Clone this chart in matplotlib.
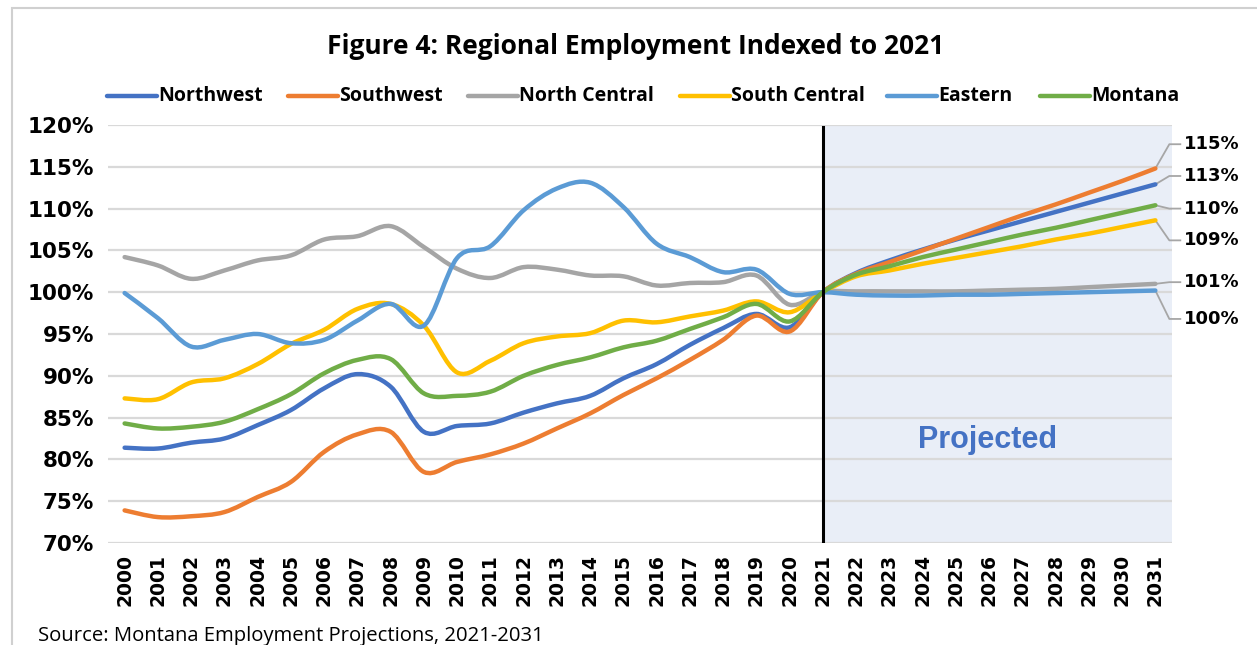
import matplotlib
matplotlib.use("Agg")
import matplotlib.pyplot as plt
from matplotlib.path import Path
from matplotlib.patches import PathPatch, Rectangle
from matplotlib.lines import Line2D
from matplotlib import font_manager
from matplotlib.ticker import FuncFormatter

# ---------------- data ----------------
years = list(range(2000, 2032))
series_names = ["Northwest", "Southwest", "North Central", "South Central", "Eastern", "Montana"]

northwest = [81.4, 81.3, 82.0, 82.5, 84.1, 85.9, 88.5, 90.2, 88.7, 83.3, 84.0, 84.3,
             85.6, 86.7, 87.6, 89.7, 91.4, 93.7, 95.7, 97.4, 95.8, 100.0,
             102.3, 103.8, 105.1, 106.3, 107.4, 108.5, 109.6, 110.7, 111.8, 112.9]
southwest = [73.9, 73.1, 73.2, 73.7, 75.5, 77.3, 80.9, 83.0, 83.3, 78.5, 79.7, 80.6,
             81.9, 83.7, 85.5, 87.7, 89.7, 91.9, 94.3, 97.2, 95.3, 100.0,
             102.2, 103.6, 105.0, 106.4, 107.8, 109.2, 110.5, 111.9, 113.3, 114.8]
north_central = [104.2, 103.2, 101.6, 102.6, 103.8, 104.4, 106.3, 106.7, 107.9, 105.4, 102.8, 101.7,
                 103.0, 102.7, 102.0, 101.9, 100.8, 101.1, 101.2, 102.0, 98.5, 100.0,
                 100.1, 100.1, 100.1, 100.1, 100.2, 100.3, 100.4, 100.6, 100.8, 101.0]
south_central = [87.3, 87.2, 89.2, 89.7, 91.4, 93.8, 95.5, 98.0, 98.6, 96.0, 90.4, 91.8,
                 93.9, 94.7, 95.1, 96.6, 96.4, 97.1, 97.8, 98.9, 97.6, 100.0,
                 101.9, 102.6, 103.4, 104.1, 104.8, 105.5, 106.3, 107.0, 107.8, 108.6]
eastern = [99.9, 96.9, 93.5, 94.3, 95.0, 93.9, 94.3, 96.6, 98.6, 96.0, 104.1, 105.5,
           109.8, 112.4, 113.1, 110.2, 105.8, 104.2, 102.4, 102.7, 99.8, 100.0,
           99.7, 99.6, 99.6, 99.7, 99.7, 99.8, 99.9, 100.0, 100.1, 100.2]
montana = [84.3, 83.7, 83.9, 84.5, 86.0, 87.8, 90.3, 91.9, 92.0, 87.9, 87.6, 88.1,
           90.0, 91.3, 92.2, 93.4, 94.2, 95.6, 97.0, 98.6, 96.5, 100.0,
           102.1, 103.1, 104.2, 105.1, 106.0, 106.9, 107.7, 108.6, 109.5, 110.4]
series_values = [northwest, southwest, north_central, south_central, eastern, montana]

y_ticks = [70, 75, 80, 85, 90, 95, 100, 105, 110, 115, 120]
projection_start = 2021
title_text = "Figure 4: Regional Employment Indexed to 2021"
source_text = "Source: Montana Employment Projections, 2021-2031"
projected_text = "Projected"

# ---------------- style ----------------
colors = ["#4472C4", "#ED7D31", "#A5A5A5", "#FFC000", "#5B9BD5", "#70AD47"]
# label y positions (data units) for the right-hand end labels
end_label_y = [113.9, 117.7, 101.2, 106.2, 96.8, 110.0]

avail = {f.name for f in font_manager.fontManager.ttflist}
narrow = "Liberation Sans Narrow" if "Liberation Sans Narrow" in avail else "Open Sans"

W, H = 1257, 645
fig = plt.figure(figsize=(W / 100, H / 100), dpi=100)
fig.patch.set_facecolor("white")

# outer chart border
fig.add_artist(Rectangle((12 / W, -0.05), 1.2, 1 - 8 / H + 0.05, transform=fig.transFigure,
                         fill=False, edgecolor="#D0D0D0", lw=1.5))

left, right, top, bottom = 108, 1172, 125, 543
ax = fig.add_axes([left / W, 1 - bottom / H, (right - left) / W, (bottom - top) / H])
ax.set_xlim(1999.5, 2031.5)
ax.set_ylim(70, 120)
for s in ax.spines.values():
    s.set_visible(False)

ax.axvspan(projection_start, 2031.5, color="#E9EEF7", zorder=0, lw=0)
ax.set_yticks(y_ticks)
ax.yaxis.grid(True, color="#D9D9D9", lw=1.6, zorder=1)
ax.set_axisbelow(True)
ax.set_xticks(years)
ax.set_xticklabels([str(y) for y in years], rotation=90, fontweight="bold",
                   fontsize=13.5, family="DejaVu Sans")
ax.yaxis.set_major_formatter(FuncFormatter(lambda v, p: f"{int(v)}%"))
for lab in ax.get_yticklabels():
    lab.set_fontweight("bold")
    lab.set_fontsize(15.5)
    lab.set_family("DejaVu Sans")
ax.tick_params(axis="both", length=0)
ax.tick_params(axis="x", pad=8)
ax.tick_params(axis="y", pad=10)


def smooth_path(xs, ys):
    pts = list(zip(xs, ys))
    verts = [pts[0]]
    codes = [Path.MOVETO]
    n = len(pts)
    for i in range(n - 1):
        p0 = pts[i - 1] if i > 0 else pts[i]
        p1 = pts[i]
        p2 = pts[i + 1]
        p3 = pts[i + 2] if i + 2 < n else pts[i + 1]
        c1 = (p1[0] + (p2[0] - p0[0]) / 6, p1[1] + (p2[1] - p0[1]) / 6)
        c2 = (p2[0] - (p3[0] - p1[0]) / 6, p2[1] - (p3[1] - p1[1]) / 6)
        verts += [c1, c2, p2]
        codes += [Path.CURVE4] * 3
    return Path(verts, codes)


for vals, col in zip(series_values, colors):
    patch = PathPatch(smooth_path(years, vals), facecolor="none", edgecolor=col,
                      lw=3.2, capstyle="round", joinstyle="round", zorder=3)
    ax.add_patch(patch)

ax.axvline(projection_start, ymin=0.005, ymax=0.995, color="black", lw=2.2, zorder=4)

ax.text(2025.95, 82.3, projected_text, color="#4472C4", fontsize=22, fontweight="bold",
        family="Liberation Sans", ha="center", va="center", zorder=5)

# end labels with leader lines
xe = years[-1]
for vals, ly in zip(series_values, end_label_y):
    ye = vals[-1]
    ax.plot([xe, xe + 0.42, xe + 0.75], [ye, ly, ly], color="#A6A6A6", lw=1.3,
            clip_on=False, zorder=2)
    ax.text(xe + 0.85, ly, f"{round(ye)}%", fontsize=13, fontweight="bold",
            family="DejaVu Sans", ha="left", va="center", clip_on=False)

# title
fig.text(0.506, 1 - 47 / H, title_text, ha="center", va="center", fontsize=19,
         fontweight="bold", family=narrow)

# legend (manual, evenly laid out like the reference)
leg_x = [107, 288, 468, 680, 887, 1040]
leg_y = 1 - 96 / H
for name, col, lx in zip(series_names, colors, leg_x):
    fig.add_artist(Line2D([lx / W, (lx + 50) / W], [leg_y, leg_y], color=col, lw=3.2,
                          solid_capstyle="round", transform=fig.transFigure))
    fig.text((lx + 51) / W, leg_y, name, ha="left", va="center", fontsize=14,
             fontweight="bold", family=narrow)

fig.text(38 / W, 1 - 636 / H, source_text, ha="left", va="center", fontsize=14.6,
         family=narrow)

fig.savefig("out.png", dpi=100)
